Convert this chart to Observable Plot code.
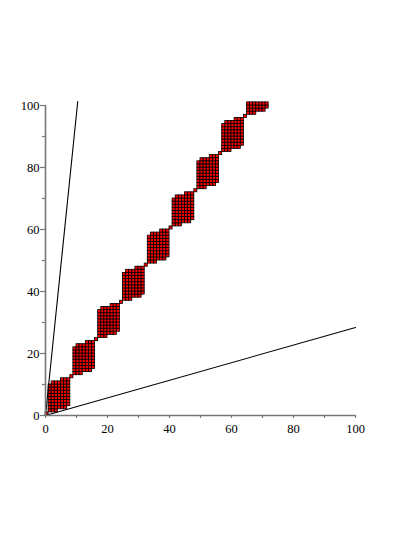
<!DOCTYPE html>
<html>
<head>
<meta charset="utf-8">
<script src="https://cdn.jsdelivr.net/npm/d3@7"></script>
<script src="https://cdn.jsdelivr.net/npm/@observablehq/plot@0.6"></script>
<style>
  html, body { margin: 0; padding: 0; background: white; }
</style>
</head>
<body>
<div id="chart"></div>
<script>
// Connector cells (lower-left corners) between the blocks
const connX = [0, 8, 16, 24, 32, 40, 48, 56, 64];
const connY = [0, 12, 24, 36, 48, 60, 72, 84, 96];
// Block shape: column offsets from connector, lowest and highest row offset per column
const colOffset = [1, 2, 3, 4, 5, 6, 7];
const colBottom = [1, 1, 1, 2, 2, 2, 3];
const colTop = [9, 10, 10, 10, 11, 11, 11];
// Two rays from the origin
const steepX = [0, 10.4];
const steepY = [0, 101.3];
const shallowX = [0, 100];
const shallowY = [0, 28.4];
// Axis ticks
const majorTicks = [0, 20, 40, 60, 80, 100];
const minorTicks = [10, 30, 50, 70, 90];

const cells = [];
connX.forEach((cx, k) => {
  const cy = connY[k];
  cells.push({x: cx, y: cy});
  colOffset.forEach((u, j) => {
    for (let v = colBottom[j]; v <= colTop[j]; v++) {
      if (cy + v <= 100) cells.push({x: cx + u, y: cy + v});
    }
  });
});

const steep = steepX.map((x, i) => ({x, y: steepY[i]}));
const shallow = shallowX.map((x, i) => ({x, y: shallowY[i]}));

const axisColor = "#777";
const chart = Plot.plot({
  width: 415,
  height: 537,
  marginLeft: 45,
  marginRight: 60,
  marginTop: 105,
  marginBottom: 122,
  x: {domain: [0, 100]},
  y: {domain: [0, 100]},
  style: {fontFamily: "'Liberation Serif', serif", fontSize: "12.5px", background: "white", color: "black"},
  marks: [
    Plot.rect(cells, {x1: d => d.x, x2: d => d.x + 1, y1: d => d.y, y2: d => d.y + 1,
      fill: "#ff0000", stroke: "black", strokeWidth: 0.8}),
    Plot.line(steep, {x: "x", y: "y", stroke: "black", strokeWidth: 1.1}),
    Plot.line(shallow, {x: "x", y: "y", stroke: "black", strokeWidth: 1.1}),
    Plot.ruleY([0], {stroke: axisColor, strokeWidth: 1.6}),
    Plot.ruleX([0], {stroke: axisColor, strokeWidth: 1.6}),
    // tick marks
    Plot.axisX({ticks: majorTicks, tickSize: 3, tickFormat: () => "", label: null, stroke: axisColor, strokeWidth: 1.2}),
    Plot.axisX({ticks: minorTicks, tickSize: 3, tickFormat: () => "", label: null, stroke: axisColor, strokeWidth: 1.2}),
    Plot.axisY({ticks: majorTicks, tickSize: 5, tickFormat: () => "", label: null, stroke: axisColor, strokeWidth: 1.2}),
    Plot.axisY({ticks: minorTicks, tickSize: 3, tickFormat: () => "", label: null, stroke: axisColor, strokeWidth: 1.2}),
    // tick labels
    Plot.axisX({ticks: majorTicks, tickSize: 0, tickPadding: 9, label: null, fill: "black"}),
    Plot.axisY({ticks: majorTicks, tickSize: 0, tickPadding: 6, label: null, fill: "black"})
  ]
});
document.getElementById("chart").appendChild(chart);
</script>
</body>
</html>
